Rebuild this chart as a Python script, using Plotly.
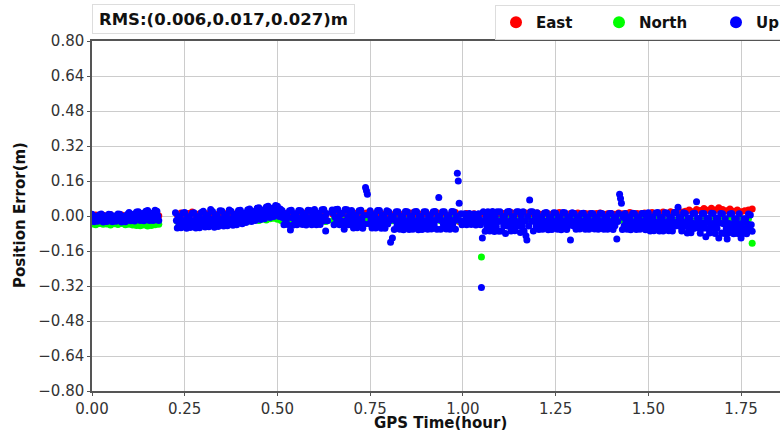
import plotly.graph_objects as go

# Sampling intervals of the series (hours)
STEP_UP = 0.0025
STEP_EN = 0.01

# Up error (m), one value per 0.0025 h, one row = 0.1 h (40 values); None = no solution
up_values = [
    # 0.0
    0.008, -0.009, -0.026, -0.001, -0.018, -0.002, -0.024, -0.01, 0.006, -0.017, 0.009, -0.008, -0.027, 0.0, -0.019, -0.001, -0.025, -0.009, 0.008, -0.016,
    0.007, -0.01, -0.026, -0.002, -0.018, 0.0, -0.024, -0.011, 0.009, -0.017, 0.008, -0.008, -0.027, -0.001, -0.019, -0.002, -0.026, -0.01, 0.007, -0.018,
    # 0.1
    0.016, -0.002, -0.022, 0.007, -0.012, 0.008, -0.023, -0.002, 0.018, -0.013, 0.02, -0.001, -0.021, 0.01, -0.011, 0.011, -0.022, 0.0, 0.022, -0.012,
    0.025, 0.001, -0.02, 0.012, -0.01, 0.013, -0.021, 0.002, 0.026, -0.009, 0.022, 0.0, -0.02, None, None, None, None, None, None, None,
    # 0.2
    None, None, None, None, None, None, None, None, None, None, 0.015, -0.02, -0.055, -0.003, -0.038, -0.002, -0.054, -0.021, 0.014, -0.037,
    0.016, -0.019, -0.056, -0.004, -0.039, -0.003, -0.053, -0.02, 0.013, -0.036, 0.015, -0.021, -0.055, -0.002, -0.038, -0.004, -0.054, -0.019, 0.016, -0.037,
    # 0.3
    0.022, -0.014, -0.05, 0.004, -0.032, 0.005, -0.049, -0.015, 0.03, -0.031, 0.021, -0.013, -0.051, 0.003, -0.033, 0.004, -0.048, -0.014, 0.024, -0.03,
    0.023, -0.012, -0.046, 0.006, -0.029, 0.006, -0.044, -0.012, 0.028, -0.028, 0.022, -0.011, -0.042, 0.006, -0.026, 0.007, -0.04, -0.01, 0.025, -0.025,
    # 0.4
    0.026, -0.005, -0.035, 0.011, -0.02, 0.014, -0.03, -0.001, 0.029, -0.015, 0.032, 0.004, -0.025, 0.018, -0.011, 0.021, -0.02, 0.008, 0.035, -0.006,
    0.038, 0.011, -0.016, 0.025, -0.003, 0.028, -0.012, 0.015, 0.041, 0.002, 0.045, 0.019, -0.007, 0.032, 0.006, 0.036, -0.002, 0.023, 0.048, 0.011,
    # 0.5
    0.045, 0.02, -0.002, 0.032, 0.008, 0.025, -0.008, -0.04, 0.009, -0.024, 0.01, -0.039, -0.007, 0.024, -0.064, 0.026, -0.008, -0.041, 0.008, -0.025,
    0.009, -0.04, -0.008, 0.025, -0.023, 0.024, -0.007, -0.039, 0.01, -0.024, 0.008, -0.041, -0.008, 0.026, -0.025, 0.025, -0.007, -0.04, 0.009, -0.023,
    # 0.6
    0.03, -0.005, -0.04, 0.013, -0.022, 0.012, -0.039, -0.005, 0.029, -0.023, 0.03, -0.006, -0.068, 0.012, -0.022, None, None, None, None, 0.028,
    0.013, -0.04, -0.005, 0.03, -0.023, 0.031, -0.004, -0.04, 0.012, -0.022, 0.012, -0.038, -0.06, 0.03, -0.022, 0.029, -0.005, -0.04, 0.013, -0.023,
    # 0.7
    0.025, -0.015, -0.055, 0.005, -0.035, 0.005, -0.054, -0.015, 0.024, -0.034, 0.026, -0.014, -0.056, 0.004, -0.036, 0.13, 0.115, 0.10, 0.005, -0.035,
    0.024, -0.016, -0.055, 0.005, -0.035, 0.006, -0.055, -0.015, 0.025, -0.035, 0.025, -0.014, -0.056, 0.004, -0.034, 0.005, -0.056, -0.016, 0.024, -0.036,
    # 0.8
    0.02, -0.021, -0.12, -0.001, -0.1, -0.001, -0.062, -0.021, 0.02, -0.042, 0.019, -0.02, -0.061, 0.0, -0.041, -0.002, -0.063, -0.022, 0.021, -0.042,
    0.02, -0.021, -0.062, -0.001, -0.041, 0.0, -0.061, -0.02, 0.019, -0.042, 0.021, -0.022, -0.063, -0.001, -0.04, -0.001, -0.062, -0.021, 0.02, -0.042,
    # 0.9
    0.02, -0.02, -0.06, 0.0, -0.04, 0.001, -0.059, -0.02, 0.019, -0.041, 0.021, -0.019, -0.061, -0.001, 0.085, 0.0, -0.06, -0.021, 0.02, -0.04,
    0.019, -0.02, -0.059, 0.001, -0.041, -0.001, -0.061, -0.019, 0.021, -0.04, 0.02, -0.021, -0.06, 0.0, 0.195, 0.16, 0.058, -0.02, 0.01, -0.04,
    # 1.0
    None, None, 0.01, -0.015, -0.04, -0.003, -0.028, 0.011, -0.016, -0.039, -0.002, -0.027, 0.009, -0.014, -0.041, -0.003, -0.028, 0.01, -0.015, -0.04,
    -0.327, -0.1, 0.02, -0.025, -0.07, -0.003, -0.048, 0.019, -0.026, -0.069, -0.002, -0.047, 0.021, -0.024, -0.071, -0.003, -0.048, 0.02, -0.025, -0.07,
    # 1.1
    0.02, -0.024, -0.068, -0.002, -0.046, -0.001, -0.08, -0.025, 0.019, -0.047, 0.021, -0.023, -0.069, -0.003, -0.045, -0.002, -0.067, -0.024, 0.02, -0.046,
    0.019, -0.025, -0.075, -0.001, -0.047, 0.02, -0.068, -0.023, -0.09, -0.11, -0.002, -0.046, 0.073, 0.019, -0.024, 0.02, -0.068, -0.024, -0.001, -0.046,
    # 1.2
    0.015, -0.024, -0.062, -0.004, -0.043, -0.003, -0.061, -0.023, 0.014, -0.044, 0.016, -0.024, -0.063, -0.005, -0.042, -0.004, -0.062, -0.022, 0.015, -0.043,
    0.014, -0.023, -0.061, -0.004, -0.044, -0.005, -0.063, -0.024, 0.016, -0.042, 0.015, -0.022, -0.062, -0.003, -0.043, -0.004, -0.11, -0.023, 0.015, -0.044,
    # 1.3
    0.012, -0.024, -0.06, -0.006, -0.042, -0.005, -0.059, -0.024, 0.011, -0.043, 0.013, -0.023, -0.061, -0.006, -0.041, -0.006, -0.06, -0.025, 0.012, -0.042,
    0.011, -0.024, -0.059, -0.005, -0.043, -0.007, -0.061, -0.023, 0.013, -0.042, 0.012, -0.025, -0.06, -0.006, -0.041, -0.005, -0.06, -0.024, 0.012, -0.043,
    # 1.4
    0.012, -0.025, -0.062, -0.007, -0.044, -0.006, -0.105, -0.025, 0.011, 0.10, 0.08, 0.058, -0.062, -0.007, -0.043, 0.012, -0.024, -0.061, -0.006, -0.044,
    -0.007, -0.063, -0.025, 0.013, -0.043, 0.011, -0.026, -0.062, -0.006, -0.044, -0.006, -0.061, -0.024, 0.012, -0.043, 0.012, -0.025, -0.063, -0.007, -0.044,
    # 1.5
    0.015, -0.027, -0.068, -0.006, -0.047, -0.005, -0.067, -0.026, 0.014, -0.048, 0.016, -0.028, -0.069, -0.006, -0.046, -0.006, -0.068, -0.027, 0.015, -0.047,
    0.014, -0.026, -0.067, -0.005, -0.048, -0.007, -0.069, -0.028, 0.016, -0.046, 0.015, -0.027, 0.04, -0.006, -0.047, -0.006, -0.068, -0.026, 0.015, -0.048,
    # 1.6
    0.012, -0.033, -0.078, -0.011, -0.056, -0.01, -0.077, -0.032, 0.011, -0.057, 0.013, -0.034, 0.065, -0.011, -0.055, -0.011, -0.079, -0.033, 0.012, -0.056,
    0.011, -0.032, -0.095, -0.01, -0.057, -0.012, -0.078, -0.034, 0.013, -0.055, 0.012, -0.033, -0.08, -0.011, -0.056, -0.01, -0.1, -0.032, 0.011, -0.078,
    # 1.7
    0.01, -0.035, -0.08, -0.013, -0.058, -0.105, -0.079, -0.034, 0.009, -0.057, 0.011, -0.036, -0.081, -0.012, -0.058, -0.013, -0.08, -0.035, 0.01, -0.057,
    -0.1, -0.034, -0.079, -0.012, -0.058, -0.012, -0.081, -0.036, 0.009, -0.057, 0.005, -0.04, -0.07,
]

# East error (m), one value per 0.01 h
east_values = [
    0.0, 0.005, -0.002, 0.004, 0.0, 0.006, -0.003, 0.003, 0.005, 0.0,
    0.004, -0.002, 0.006, 0.002, 0.0, 0.005, -0.004, 0.003, 0.001, None,
    None, None, None, 0.006, 0.014, 0.0, 0.012, 0.018, 0.004, 0.01,
    0.002, 0.01, 0.004, -0.005, 0.008, 0.003, 0.01, 0.0, 0.006, 0.012,
    0.014, 0.005, 0.008, 0.002, 0.01, 0.006, 0.012, 0.015, 0.008, 0.02,
    0.01, 0.004, 0.012, 0.006, 0.002, 0.01, 0.008, 0.014, 0.005, 0.01,
    0.012, 0.006, 0.01, 0.004, None, 0.008, 0.012, 0.01, 0.006, 0.014,
    0.008, 0.012, 0.005, 0.01, 0.014, 0.006, 0.01, 0.008, 0.012, 0.004,
    0.01, 0.006, 0.012, 0.008, 0.004, 0.01, 0.014, 0.006, 0.01, 0.008,
    0.012, 0.006, 0.01, 0.015, 0.008, 0.012, 0.004, 0.01, 0.016, -0.025,
    None, 0.012, 0.006, 0.01, -0.025, 0.008, 0.014, 0.01, 0.006, 0.012,
    0.008, 0.012, 0.01, 0.016, 0.006, 0.012, 0.01, 0.014, 0.008, 0.012,
    0.014, 0.008, 0.012, 0.01, 0.006, 0.012, 0.016, 0.01, 0.008, 0.012,
    0.01, 0.014, 0.008, 0.012, 0.01, 0.006, 0.012, 0.014, 0.008, 0.01,
    0.012, 0.008, 0.014, 0.01, 0.012, 0.016, 0.008, 0.012, 0.01, 0.014,
    0.012, 0.016, 0.01, 0.014, 0.018, 0.012, 0.02, 0.016, 0.022, 0.018,
    0.022, 0.028, 0.02, 0.03, 0.025, 0.034, 0.026, 0.036, 0.028, 0.038,
    0.03, 0.024, 0.032, 0.022, 0.028, 0.02, 0.024, 0.028, 0.032,
]

# North error (m), one value per 0.01 h
north_values = [
    -0.036, -0.04, -0.034, -0.038, -0.036, -0.041, -0.035, -0.039, -0.034, -0.04,
    -0.038, -0.041, -0.043, -0.045, -0.041, -0.046, -0.043, -0.04, -0.038, None,
    None, None, None, -0.024, -0.018, -0.03, -0.022, -0.026, -0.024, -0.03,
    -0.02, -0.025, -0.018, -0.022, -0.028, -0.02, -0.024, -0.018, -0.022, -0.026,
    -0.022, -0.018, -0.024, -0.02, -0.016, -0.02, -0.014, -0.018, -0.012, -0.01,
    -0.015, -0.02, -0.018, -0.022, -0.02, -0.016, -0.02, -0.024, -0.018, -0.02,
    -0.022, -0.018, -0.02, -0.025, None, -0.02, -0.018, -0.022, -0.02, -0.024,
    -0.02, -0.018, -0.022, -0.02, -0.025, -0.018, -0.022, -0.02, -0.018, -0.024,
    -0.02, -0.022, -0.018, -0.02, -0.024, -0.018, -0.02, -0.022, -0.018, -0.02,
    -0.022, -0.018, -0.02, -0.015, -0.022, -0.018, -0.02, -0.012, -0.018, -0.02,
    None, -0.01, 0.0, -0.015, -0.008, -0.187, -0.018, -0.02, -0.015, -0.02,
    -0.018, -0.02, -0.015, -0.022, -0.018, -0.02, -0.016, -0.022, -0.018, -0.02,
    -0.02, -0.016, -0.022, -0.018, -0.02, -0.015, -0.022, -0.018, -0.02, -0.016,
    -0.018, -0.022, -0.015, -0.02, -0.018, -0.022, -0.016, -0.02, -0.018, -0.022,
    -0.02, -0.016, -0.022, -0.018, -0.02, -0.015, -0.022, -0.018, -0.02, -0.016,
    -0.018, -0.022, -0.015, -0.02, -0.018, -0.022, -0.016, -0.02, -0.018, -0.022,
    -0.02, -0.016, -0.022, -0.018, -0.02, -0.015, -0.012, -0.018, -0.01, -0.016,
    -0.018, -0.012, -0.02, -0.015, -0.018, -0.01, -0.015, -0.012, -0.125,
]

x_tick_values = [0.00, 0.25, 0.50, 0.75, 1.00, 1.25, 1.50, 1.75]
y_tick_values = [0.80, 0.64, 0.48, 0.32, 0.16, 0.00, -0.16, -0.32, -0.48, -0.64, -0.80]
rms_label = "RMS:(0.006,0.017,0.027)m"
series_names = ["East", "North", "Up"]
series_colors = ["#ff0000", "#00ff00", "#0000ff"]


def epochs(values, step):
    return [round(i * step, 4) for i in range(len(values))]


FONT = "DejaVu Sans"
W, H = 780, 430
ML, MR, MT, MB = 92, 0, 41, 39
PW, PH = W - ML - MR, H - MT - MB

fig = go.Figure()
entry_widths = [58, 72, 40]
for name, vals, step, color, ew in zip(
    series_names, [east_values, north_values, up_values],
    [STEP_EN, STEP_EN, STEP_UP], series_colors, entry_widths,
):
    fig.add_trace(go.Scatter(
        x=epochs(vals, step), y=vals, mode="markers", name=name,
        marker=dict(color=color, size=7, line=dict(width=0)),
        legendwidth=ew,
    ))

axis_common = dict(
    showgrid=True, gridcolor="#cccccc", gridwidth=1,
    showline=True, linecolor="#555555", linewidth=1.5, mirror=True,
    ticks="outside", ticklen=3, tickcolor="#555555",
    tickfont=dict(family=FONT, size=15, color="#333333"),
    zeroline=False, automargin=False,
)

fig.update_layout(
    width=W, height=H,
    margin=dict(l=ML, r=MR, t=MT, b=MB, autoexpand=False),
    paper_bgcolor="white", plot_bgcolor="white",
    font=dict(family=FONT, size=15, color="#111111"),
    xaxis=dict(range=[0, 1.855], tickvals=x_tick_values, tickformat=".2f", **axis_common),
    yaxis=dict(range=[-0.8, 0.8], tickvals=y_tick_values, tickformat=".2f", **axis_common),
    legend=dict(orientation="h", xref="container", yref="container",
                x=495 / W, xanchor="left", y=1 - 5 / H, yanchor="top",
                itemsizing="constant",
                bgcolor="white", bordercolor="#dddddd", borderwidth=1,
                font=dict(family=FONT, size=15, color="#111111", weight="bold")),
    showlegend=True,
)

# box with the RMS values
fig.add_annotation(
    xref="paper", yref="paper", x=0, y=1 + 7 / PH, xanchor="left", yanchor="bottom",
    text="<b>" + rms_label + "</b>", showarrow=False,
    font=dict(family=FONT, size=16.5, color="#111111"),
    width=255, height=22, align="center",
    bgcolor="white", bordercolor="#dddddd", borderwidth=1, borderpad=3,
)
# axis titles
fig.add_annotation(
    xref="paper", yref="paper", x=(440 - ML) / PW, y=-(423 - (MT + PH)) / PH,
    xanchor="center", yanchor="middle", showarrow=False,
    text="<b>GPS Time(hour)</b>", font=dict(family=FONT, size=15, color="#111111"),
)
fig.add_annotation(
    xref="paper", yref="paper", x=-(ML - 20) / PW, y=(MT + PH - 215) / PH,
    xanchor="center", yanchor="middle", showarrow=False, textangle=-90,
    text="<b>Position Error(m)</b>", font=dict(family=FONT, size=15, color="#111111"),
)

fig.write_html("out.html", config={"displayModeBar": False},
               post_script="document.body.style.margin='0';")
